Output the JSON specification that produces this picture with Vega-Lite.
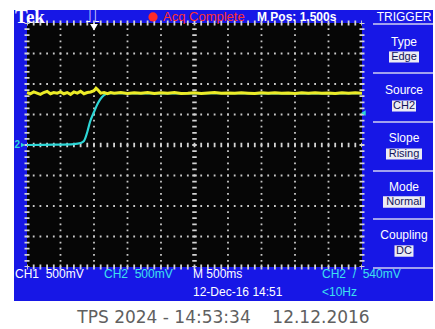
{
  "$schema": "https://vega.github.io/schema/vega-lite/v6.json",
  "width": 419,
  "height": 291,
  "autosize": {"type": "none"},
  "padding": {"left": 14, "top": 10, "right": 2, "bottom": 28},
  "background": "white",
  "config": {"view": {"fill": "#1717e6", "stroke": null}, "axis": {"disable": true}},
  "title": {"text": "TPS 2024 - 14:53:34 \u00a0\u00a0\u00a012.12.2016", "orient": "bottom", "anchor": "middle", "offset": 9, "font": "DejaVu Sans", "fontSize": 17, "fontWeight": "normal", "color": "#606060"},
  "data": {"values": [{}]},
  "datasets": {
    "vgrid": [{"t": -0.5}, {"t": 0}, {"t": 0.5}, {"t": 1}, {"t": 2}, {"t": 2.5}, {"t": 3}, {"t": 3.5}],
    "hgrid": [{"v": -1.5}, {"v": -1}, {"v": -0.5}, {"v": 0.5}, {"v": 1}, {"v": 1.5}],
    "cyan": [
      {"t": -1.0, "v": 0.0}, {"t": -0.6, "v": 0.006}, {"t": -0.3, "v": 0.016}, {"t": -0.2, "v": 0.033},
      {"t": -0.15, "v": 0.066}, {"t": -0.1, "v": 0.213}, {"t": -0.06, "v": 0.377}, {"t": 0.0, "v": 0.541},
      {"t": 0.06, "v": 0.689}, {"t": 0.12, "v": 0.787}, {"t": 0.18, "v": 0.836}, {"t": 0.24, "v": 0.848},
      {"t": 1.0, "v": 0.846}, {"t": 2.0, "v": 0.848}, {"t": 3.0, "v": 0.846}, {"t": 4.0, "v": 0.848}
    ],
    "yellow": [
      {"t": -1.0, "v": 0.86}, {"t": -0.95, "v": 0.84}, {"t": -0.9, "v": 0.87}, {"t": -0.85, "v": 0.85},
      {"t": -0.8, "v": 0.83}, {"t": -0.75, "v": 0.86}, {"t": -0.7, "v": 0.88}, {"t": -0.65, "v": 0.84},
      {"t": -0.6, "v": 0.86}, {"t": -0.55, "v": 0.85}, {"t": -0.5, "v": 0.87}, {"t": -0.45, "v": 0.84},
      {"t": -0.4, "v": 0.86}, {"t": -0.35, "v": 0.83}, {"t": -0.3, "v": 0.87}, {"t": -0.25, "v": 0.85},
      {"t": -0.2, "v": 0.88}, {"t": -0.15, "v": 0.84}, {"t": -0.1, "v": 0.86}, {"t": -0.05, "v": 0.87},
      {"t": 0.0, "v": 0.89}, {"t": 0.03, "v": 0.93}, {"t": 0.06, "v": 0.9}, {"t": 0.1, "v": 0.85},
      {"t": 0.15, "v": 0.86}, {"t": 0.2, "v": 0.84}, {"t": 0.25, "v": 0.86}, {"t": 0.3, "v": 0.85},
      {"t": 0.4, "v": 0.86}, {"t": 0.5, "v": 0.845}, {"t": 0.6, "v": 0.855}, {"t": 0.7, "v": 0.85},
      {"t": 0.8, "v": 0.86}, {"t": 0.9, "v": 0.845}, {"t": 1.0, "v": 0.855}, {"t": 1.1, "v": 0.85},
      {"t": 1.2, "v": 0.86}, {"t": 1.3, "v": 0.845}, {"t": 1.4, "v": 0.85}, {"t": 1.5, "v": 0.858},
      {"t": 1.6, "v": 0.846}, {"t": 1.7, "v": 0.852}, {"t": 1.8, "v": 0.86}, {"t": 1.9, "v": 0.847},
      {"t": 2.0, "v": 0.853}, {"t": 2.1, "v": 0.848}, {"t": 2.2, "v": 0.857}, {"t": 2.3, "v": 0.85},
      {"t": 2.4, "v": 0.845}, {"t": 2.5, "v": 0.856}, {"t": 2.6, "v": 0.85}, {"t": 2.7, "v": 0.858},
      {"t": 2.8, "v": 0.847}, {"t": 2.9, "v": 0.852}, {"t": 3.0, "v": 0.846}, {"t": 3.1, "v": 0.855},
      {"t": 3.2, "v": 0.85}, {"t": 3.3, "v": 0.857}, {"t": 3.4, "v": 0.848}, {"t": 3.5, "v": 0.853},
      {"t": 3.6, "v": 0.846}, {"t": 3.7, "v": 0.855}, {"t": 3.8, "v": 0.85}, {"t": 3.9, "v": 0.856},
      {"t": 4.0, "v": 0.85}
    ]
  },
  "layer": [
    {"mark": {"type": "rect", "fill": "#060606"},
     "encoding": {"x": {"datum": -1, "scale": {"domain": [-1.194, 5.06], "nice": false, "zero": false}, "axis": null},
                  "x2": {"datum": 4},
                  "y": {"datum": -2, "scale": {"domain": [-2.557, 2.213], "nice": false, "zero": false}, "axis": null},
                  "y2": {"datum": 2}}},
    {"data": {"name": "vgrid"}, "mark": {"type": "rule", "stroke": "#c8c8c8", "strokeWidth": 1.8, "strokeDash": [1.8, 4.3], "strokeDashOffset": 0.9},
     "encoding": {"x": {"field": "t", "type": "quantitative"}, "y": {"datum": -2}, "y2": {"datum": 2}}},
    {"data": {"name": "hgrid"}, "mark": {"type": "rule", "stroke": "#c8c8c8", "strokeWidth": 1.8, "strokeDash": [1.8, 4.9], "strokeDashOffset": 0.9},
     "encoding": {"y": {"field": "v", "type": "quantitative"}, "x": {"datum": -1}, "x2": {"datum": 4}}},
    {"mark": {"type": "rule", "stroke": "#d4d4d4", "strokeWidth": 4.5, "strokeDash": [1.8, 4.3], "strokeDashOffset": 0.9},
     "encoding": {"x": {"datum": 1.5}, "y": {"datum": -2}, "y2": {"datum": 2}}},
    {"mark": {"type": "rule", "stroke": "#d4d4d4", "strokeWidth": 4.5, "strokeDash": [1.8, 4.9], "strokeDashOffset": 0.9},
     "encoding": {"y": {"datum": 0}, "x": {"datum": -1}, "x2": {"datum": 4}}},
    {"mark": {"type": "rule", "stroke": "#d4d4d4", "strokeWidth": 5, "strokeDash": [1.8, 4.3], "strokeDashOffset": 0.9},
     "encoding": {"x": {"datum": -1}, "y": {"datum": -2}, "y2": {"datum": 2}}},
    {"mark": {"type": "rule", "stroke": "#d4d4d4", "strokeWidth": 5, "strokeDash": [1.8, 4.3], "strokeDashOffset": 0.9},
     "encoding": {"x": {"datum": 4}, "y": {"datum": -2}, "y2": {"datum": 2}}},
    {"mark": {"type": "rule", "stroke": "#d4d4d4", "strokeWidth": 5, "strokeDash": [1.8, 4.9], "strokeDashOffset": 0.9},
     "encoding": {"y": {"datum": 2}, "x": {"datum": -1}, "x2": {"datum": 4}}},
    {"mark": {"type": "rule", "stroke": "#d4d4d4", "strokeWidth": 5, "strokeDash": [1.8, 4.9], "strokeDashOffset": 0.9},
     "encoding": {"y": {"datum": -2}, "x": {"datum": -1}, "x2": {"datum": 4}}},
    {"data": {"name": "cyan"}, "mark": {"type": "line", "stroke": "#2ed6d6", "strokeWidth": 2.2, "interpolate": "monotone"},
     "encoding": {"x": {"field": "t", "type": "quantitative"}, "y": {"field": "v", "type": "quantitative"}}},
    {"data": {"name": "yellow"}, "mark": {"type": "line", "stroke": "#ecec28", "strokeWidth": 3},
     "encoding": {"x": {"field": "t", "type": "quantitative"}, "y": {"field": "v", "type": "quantitative"}}},
    {"mark": {"type": "point", "shape": "triangle-left", "filled": true, "fill": "#2ed6d6", "size": 30, "opacity": 1},
     "encoding": {"x": {"datum": 4.02}, "y": {"datum": 0.525}}},
    {"mark": {"type": "point", "shape": "triangle-right", "filled": true, "fill": "#2ed6d6", "size": 22, "opacity": 1},
     "encoding": {"x": {"datum": -1.06}, "y": {"datum": 0}}},
    {"mark": {"type": "text", "text": "2", "align": "center", "baseline": "middle", "fontSize": 10, "fontWeight": "bold", "font": "Liberation Sans", "fill": "#2ed6d6"},
     "encoding": {"x": {"datum": -1.145}, "y": {"datum": 0}}},
    {"mark": {"type": "point", "shape": "triangle-down", "filled": true, "fill": "white", "size": 60, "opacity": 1},
     "encoding": {"x": {"datum": 0}, "y": {"datum": 1.93}}},
    {"mark": {"type": "text", "text": "Tek", "align": "left", "baseline": "middle", "fontSize": 19, "fontWeight": "bold", "font": "Liberation Serif", "fill": "white"},
     "encoding": {"x": {"datum": -1.179}, "y": {"datum": 2.1}}},
    {"mark": {"type": "text", "text": "⎍", "align": "center", "baseline": "middle", "fontSize": 19, "font": "DejaVu Sans", "fill": "white"},
     "encoding": {"x": {"datum": -0.02}, "y": {"datum": 2.11}}},
    {"mark": {"type": "point", "shape": "circle", "filled": true, "fill": "#ff2a2a", "size": 85, "opacity": 1},
     "encoding": {"x": {"datum": 0.881}, "y": {"datum": 2.1}}},
    {"mark": {"type": "text", "text": "Acq Complete", "align": "left", "baseline": "middle", "fontSize": 13, "font": "Liberation Sans", "fill": "#ff3030"},
     "encoding": {"x": {"datum": 1.03}, "y": {"datum": 2.1}}},
    {"mark": {"type": "text", "text": "M Pos: 1.500s", "align": "left", "baseline": "middle", "fontSize": 12, "fontWeight": "bold", "font": "Liberation Sans", "fill": "white"},
     "encoding": {"x": {"datum": 2.433}, "y": {"datum": 2.1}}},
    {"mark": {"type": "text", "text": "TRIGGER", "align": "center", "baseline": "middle", "fontSize": 12, "font": "Liberation Sans", "fill": "white"},
     "encoding": {"x": {"datum": 4.627}, "y": {"datum": 2.1}}},
    {"mark": {"type": "rule", "stroke": "#d0d0f0", "strokeWidth": 1.5}, "encoding": {"x": {"datum": 4.164}, "x2": {"datum": 5.06}, "y": {"datum": 1.984}}},
    {"mark": {"type": "rule", "stroke": "#d0d0f0", "strokeWidth": 1.5}, "encoding": {"x": {"datum": 4.164}, "x2": {"datum": 5.06}, "y": {"datum": 1.18}}},
    {"mark": {"type": "rule", "stroke": "#d0d0f0", "strokeWidth": 1.5}, "encoding": {"x": {"datum": 4.164}, "x2": {"datum": 5.06}, "y": {"datum": 0.377}}},
    {"mark": {"type": "rule", "stroke": "#d0d0f0", "strokeWidth": 1.5}, "encoding": {"x": {"datum": 4.164}, "x2": {"datum": 5.06}, "y": {"datum": -0.426}}},
    {"mark": {"type": "rule", "stroke": "#d0d0f0", "strokeWidth": 1.5}, "encoding": {"x": {"datum": 4.164}, "x2": {"datum": 5.06}, "y": {"datum": -1.213}}},
    {"mark": {"type": "rule", "stroke": "#d0d0f0", "strokeWidth": 1.5}, "encoding": {"x": {"datum": 4.164}, "x2": {"datum": 5.06}, "y": {"datum": -2.016}}},
    {"mark": {"type": "text", "text": "Type", "align": "center", "baseline": "middle", "fontSize": 12, "font": "Liberation Sans", "fill": "white"},
     "encoding": {"x": {"datum": 4.627}, "y": {"datum": 1.689}}},
    {"mark": {"type": "text", "text": "Source", "align": "center", "baseline": "middle", "fontSize": 12, "font": "Liberation Sans", "fill": "white"},
     "encoding": {"x": {"datum": 4.627}, "y": {"datum": 0.902}}},
    {"mark": {"type": "text", "text": "Slope", "align": "center", "baseline": "middle", "fontSize": 12, "font": "Liberation Sans", "fill": "white"},
     "encoding": {"x": {"datum": 4.627}, "y": {"datum": 0.115}}},
    {"mark": {"type": "text", "text": "Mode", "align": "center", "baseline": "middle", "fontSize": 12, "font": "Liberation Sans", "fill": "white"},
     "encoding": {"x": {"datum": 4.627}, "y": {"datum": -0.689}}},
    {"mark": {"type": "text", "text": "Coupling", "align": "center", "baseline": "middle", "fontSize": 12, "font": "Liberation Sans", "fill": "white"},
     "encoding": {"x": {"datum": 4.627}, "y": {"datum": -1.475}}},
    {"mark": {"type": "point", "shape": "M-1,-0.37H1V0.37H-1Z", "filled": true, "fill": "#ececf4", "size": 900, "opacity": 1},
     "encoding": {"x": {"datum": 4.627}, "y": {"datum": 1.443}}},
    {"mark": {"type": "point", "shape": "M-1,-0.46H1V0.46H-1Z", "filled": true, "fill": "#ececf4", "size": 576, "opacity": 1},
     "encoding": {"x": {"datum": 4.627}, "y": {"datum": 0.639}}},
    {"mark": {"type": "point", "shape": "M-1,-0.31H1V0.31H-1Z", "filled": true, "fill": "#ececf4", "size": 1296, "opacity": 1},
     "encoding": {"x": {"datum": 4.627}, "y": {"datum": -0.148}}},
    {"mark": {"type": "point", "shape": "M-1,-0.27H1V0.27H-1Z", "filled": true, "fill": "#ececf4", "size": 1764, "opacity": 1},
     "encoding": {"x": {"datum": 4.627}, "y": {"datum": -0.934}}},
    {"mark": {"type": "point", "shape": "M-1,-0.6H1V0.6H-1Z", "filled": true, "fill": "#ececf4", "size": 361, "opacity": 1},
     "encoding": {"x": {"datum": 4.627}, "y": {"datum": -1.738}}},
    {"mark": {"type": "text", "text": "Edge", "align": "center", "baseline": "middle", "fontSize": 11, "font": "Liberation Sans", "fill": "#14145a"},
     "encoding": {"x": {"datum": 4.627}, "y": {"datum": 1.443}}},
    {"mark": {"type": "text", "text": "CH2", "align": "center", "baseline": "middle", "fontSize": 11, "font": "Liberation Sans", "fill": "#14145a"},
     "encoding": {"x": {"datum": 4.627}, "y": {"datum": 0.639}}},
    {"mark": {"type": "text", "text": "Rising", "align": "center", "baseline": "middle", "fontSize": 11, "font": "Liberation Sans", "fill": "#14145a"},
     "encoding": {"x": {"datum": 4.627}, "y": {"datum": -0.148}}},
    {"mark": {"type": "text", "text": "Normal", "align": "center", "baseline": "middle", "fontSize": 11, "font": "Liberation Sans", "fill": "#14145a"},
     "encoding": {"x": {"datum": 4.627}, "y": {"datum": -0.934}}},
    {"mark": {"type": "text", "text": "DC", "align": "center", "baseline": "middle", "fontSize": 11, "font": "Liberation Sans", "fill": "#14145a"},
     "encoding": {"x": {"datum": 4.627}, "y": {"datum": -1.738}}},
    {"mark": {"type": "text", "text": "CH1\u00a0\u00a0500mV", "align": "left", "baseline": "middle", "fontSize": 12, "font": "Liberation Sans", "fill": "white"},
     "encoding": {"x": {"datum": -1.179}, "y": {"datum": -2.115}}},
    {"mark": {"type": "text", "text": "CH2\u00a0\u00a0500mV", "align": "left", "baseline": "middle", "fontSize": 12, "font": "Liberation Sans", "fill": "#3ee0ee"},
     "encoding": {"x": {"datum": 0.149}, "y": {"datum": -2.115}}},
    {"mark": {"type": "text", "text": "M 500ms", "align": "left", "baseline": "middle", "fontSize": 12, "font": "Liberation Sans", "fill": "white"},
     "encoding": {"x": {"datum": 1.478}, "y": {"datum": -2.115}}},
    {"mark": {"type": "text", "text": "12-Dec-16 14:51", "align": "left", "baseline": "middle", "fontSize": 12, "font": "Liberation Sans", "fill": "white"},
     "encoding": {"x": {"datum": 1.478}, "y": {"datum": -2.41}}},
    {"mark": {"type": "text", "text": "CH2\u00a0\u00a0/\u00a0\u00a0540mV", "align": "left", "baseline": "middle", "fontSize": 12, "font": "Liberation Sans", "fill": "#3ee0ee"},
     "encoding": {"x": {"datum": 3.403}, "y": {"datum": -2.115}}},
    {"mark": {"type": "text", "text": "<10Hz", "align": "left", "baseline": "middle", "fontSize": 12, "font": "Liberation Sans", "fill": "#3ee0ee"},
     "encoding": {"x": {"datum": 3.403}, "y": {"datum": -2.41}}}
  ]
}
